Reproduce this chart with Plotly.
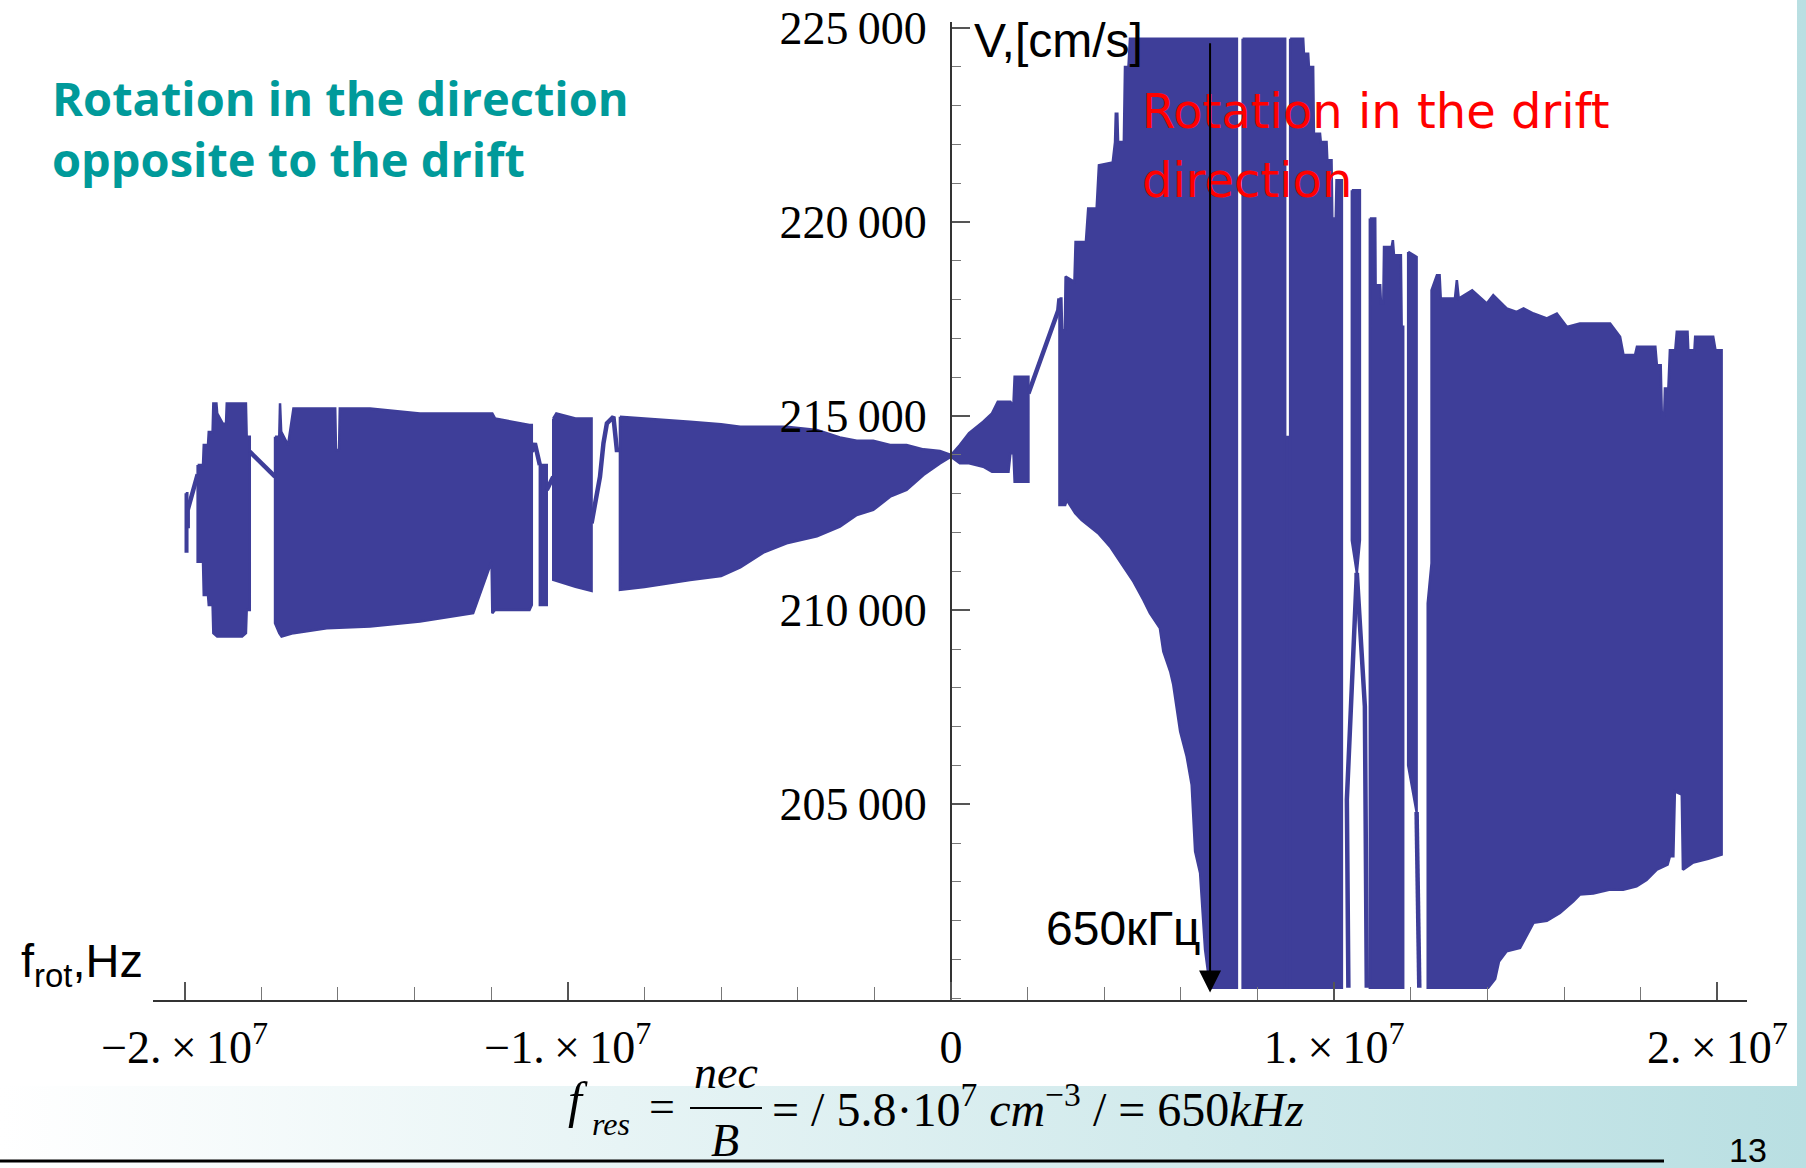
import plotly.graph_objects as go

W, H = 1806, 1168
X_UNIT = 1e6          # x values below are in units of 10^6 Hz
BLUE = "#3E3E99"

# ---------------- data ----------------
# Upper / lower envelopes of the densely oscillating V(f_rot) curve.
# Blocks are separated by None (upper and lower lists have the same block order).
upper = [
    (-19.97, 213011), (-19.93, 213011), None,
    (-19.66, 213739), (-19.52, 213739), (-19.50, 214254), (-19.39, 214254), (-19.37, 214588),
    (-19.27, 214588), (-19.25, 215327), (-19.17, 215327), (-19.15, 215069), (-19.00, 214800),
    (-18.92, 214800), (-18.90, 215327), (-18.40, 215327), (-18.38, 214468), (-18.30, 214468), None,
    (-17.64, 214468), (-17.53, 214468), (-17.51, 215327), (-17.48, 214600), (-17.30, 214254),
    (-17.16, 215198), (-16.07, 215198), (-16.05, 214125), (-15.97, 214125), (-15.95, 215198),
    (-15.16, 215198), (-13.86, 215069), (-11.97, 215069), (-11.90, 214940), (-11.00, 214768),
    (-10.94, 214768), None,
    (-10.73, 213739), (-10.55, 213739), None,
    (-10.38, 214940), (-10.30, 215069), (-9.80, 214940), (-9.38, 214940), None,
    (-8.64, 214983), (-8.00, 214940), (-7.30, 214897), (-6.81, 214853), (-6.00, 214790),
    (-5.50, 214725), (-4.29, 214725), (-3.50, 214640), (-2.90, 214450), (-2.46, 214365),
    (-2.03, 214365), (-1.59, 214254), (-1.16, 214254), (-0.72, 214143), (-0.29, 214100),
    (0.00, 213997), (0.23, 214254), (0.47, 214560), (0.84, 214854), (1.07, 215069),
    (1.22, 215368), (1.55, 215368), (1.58, 215327), (1.63, 215327), (1.66, 216012), (2.02, 216012), None,
    (2.83, 218028), (2.88, 218028), (2.90, 217213), (2.97, 217213), (2.99, 218592), (3.22, 218456),
    (3.25, 219485), (3.52, 219485), (3.58, 220344), (3.80, 220344), (3.86, 221458), (4.22, 221532),
    (4.28, 222058), (4.30, 222788), (4.34, 222788), (4.36, 222058), (4.51, 222058), (4.54, 223990),
    (4.63, 223990), (4.67, 224718), (7.46, 224718), None,
    (7.61, 224718), (8.72, 224718), None,
    (8.70, 214460), (8.87, 214460), None,
    (8.85, 224718), (9.19, 224718), (9.21, 224330), (9.32, 224330), (9.34, 223990), (9.45, 223990),
    (9.47, 222270), (9.63, 222270), (9.65, 222058), (9.80, 222058), (9.82, 221587), (9.93, 221587),
    (9.95, 220086), (10.04, 220086), (10.06, 221072), (10.20, 221072), None,
    (10.46, 220815), (10.67, 220815), None,
    (10.93, 220086), (11.07, 220086), (11.08, 218370), (11.20, 218370), (11.22, 217900),
    (11.28, 217900), (11.30, 219356), (11.50, 219356), (11.53, 219530), (11.56, 219142),
    (11.74, 219142), (11.76, 217298), (11.80, 217298), None,
    (11.93, 219228), (12.15, 219100), None,
    (12.54, 211210), (12.54, 218242), (12.68, 218628), (12.75, 218628), (12.78, 218028),
    (13.15, 218028), (13.20, 218499), (13.25, 218028), (13.60, 218242), (13.98, 217900),
    (14.15, 218114), (14.50, 217771), (14.76, 217685), (14.94, 217771), (15.20, 217642),
    (15.55, 217514), (15.81, 217642), (16.07, 217298), (16.41, 217385), (17.20, 217385),
    (17.46, 217040), (17.55, 216570), (17.85, 216570), (17.90, 216783), (18.38, 216783),
    (18.42, 216312), (18.52, 216312), (18.55, 214983), (18.61, 214983), (18.63, 215713),
    (18.72, 215713), (18.76, 216698), (18.90, 216698), (18.94, 217169), (19.22, 217169),
    (19.24, 216698), (19.40, 216698), (19.42, 217040), (19.89, 217040), (19.95, 216698), (20.11, 216698),
]

lower = [
    (-19.97, 211509), (-19.93, 211509), None,
    (-19.66, 211251), (-19.52, 211251), (-19.50, 210394), (-19.39, 210394), (-19.37, 210137),
    (-19.27, 210137), (-19.25, 209409), (-19.15, 209323), (-18.50, 209323), (-18.40, 209409),
    (-18.38, 210008), (-18.30, 210008), None,
    (-17.64, 209666), (-17.53, 209409), (-17.47, 209323), (-17.16, 209409), (-16.29, 209537),
    (-15.16, 209580), (-13.86, 209709), (-12.47, 209923), (-11.99, 211251), (-11.97, 209923),
    (-11.90, 210008), (-11.00, 210008), (-10.94, 210137), None,
    (-10.73, 210137), (-10.55, 210137), None,
    (-10.38, 210780), (-9.80, 210600), (-9.38, 210500), None,
    (-8.64, 210523), (-8.00, 210600), (-7.30, 210700), (-6.81, 210780), (-6.00, 210883),
    (-5.50, 211100), (-4.90, 211483), (-4.29, 211724), (-3.50, 211900), (-2.90, 212152),
    (-2.46, 212453), (-2.03, 212581), (-1.59, 212924), (-1.16, 213096), (-0.72, 213482),
    (-0.29, 213782), (0.00, 213953), (0.23, 213782), (0.47, 213782), (0.84, 213696),
    (1.07, 213567), (1.50, 213567), (1.55, 214040), (1.63, 214040), (1.66, 213310), (2.02, 213310), None,
    (2.83, 212710), (2.98, 212710), (3.02, 212839), (3.24, 212500), (3.41, 212324), (3.84, 211982),
    (4.15, 211637), (4.41, 211251), (4.76, 210737), (5.02, 210266), (5.19, 209923), (5.45, 209537),
    (5.54, 208936), (5.72, 208421), (5.80, 208079), (5.98, 206877), (6.15, 206234), (6.28, 205506),
    (6.37, 203790), (6.50, 203233), (6.63, 201260), (6.76, 200275), (7.46, 200275), None,
    (7.61, 200275), (8.72, 200275), None,
    (8.70, 200275), (8.87, 200275), None,
    (8.85, 200275), (10.20, 200275), None,
    (10.46, 211800), (10.59, 210960), (10.67, 211800), None,
    (10.93, 200275), (11.80, 200275), None,
    (11.93, 206000), (12.15, 204800), None,
    (12.44, 210180), (12.44, 200275), (14.02, 200275), (14.20, 200500), (14.30, 200950),
    (14.50, 201216), (14.85, 201300), (15.20, 201947), (15.55, 202000), (15.89, 202200),
    (16.24, 202500), (16.41, 202676), (16.76, 202700), (17.20, 202804), (17.54, 202800),
    (17.89, 202890), (18.15, 203050), (18.42, 203318), (18.70, 203450), (18.76, 203661),
    (18.85, 203661), (18.89, 205333), (19.07, 205250), (19.10, 203318), (19.37, 203500),
    (19.76, 203600), (20.11, 203704),
]

# Single-line pieces of the curve joining the oscillating blocks (None = break)
links = [
    (-19.92, 212110), (-19.92, 212580), (-19.66, 213500), None,
    (-18.30, 214083), (-17.64, 213439), None,
    (-10.94, 214083), (-10.86, 214297), (-10.73, 213739), None,
    (-10.55, 213096), (-10.38, 213439), None,
    (-9.38, 212239), (-9.16, 213439), (-9.07, 214297), (-8.98, 214811), (-8.81, 214983),
    (-8.72, 214125), (-8.64, 214125), None,
    (2.02, 215584), (2.80, 217727), (2.83, 218028), None,
    (10.59, 210960), (10.33, 205120), (10.37, 200275), None,
    (10.59, 210960), (10.80, 207520), (10.85, 200275), None,
    (12.15, 204800), (12.22, 200275),
]

# Arrow marking 650 kHz
arrow_x = 6.76
arrow_top = 224640
arrow_tip = 200150

# Axes
x_range = [-20.825, 20.772]
y_range = [199960, 225150]
y_tick_vals = [205000, 210000, 215000, 220000, 225000]
y_tick_text = ["205\u2009000", "210\u2009000", "215\u2009000", "220\u2009000", "225\u2009000"]
x_tick_vals = [-2e7, -1e7, 0, 1e7, 2e7]
x_tick_text = ["\u22122.\u2009\u00d7\u200910<sup>7</sup>", "\u22121.\u2009\u00d7\u200910<sup>7</sup>", "0",
               "1.\u2009\u00d7\u200910<sup>7</sup>", "2.\u2009\u00d7\u200910<sup>7</sup>"]


def split_blocks(pts):
    out, cur = [], []
    for p in pts:
        if p is None:
            out.append(cur)
            cur = []
        else:
            cur.append(p)
    if cur:
        out.append(cur)
    return out


fig = go.Figure()

# ---- page background (slide band with gradient) on a full-page helper subplot ----
fig.add_trace(go.Scatter(
    x=[0, 1797, 1797, W, W, 0, 0], y=[1086, 1086, 0, 0, H, H, 1086],
    mode="lines", fill="toself", line=dict(width=0, color="rgba(0,0,0,0)"),
    fillgradient=dict(type="horizontal", colorscale=[[0, "#FFFFFF"], [1, "#B9DFE2"]], start=0, stop=W),
    xaxis="x", yaxis="y", hoverinfo="skip", showlegend=False))

# ---- the curve: filled envelopes ----
for u, l in zip(split_blocks(upper), split_blocks(lower)):
    xs = [p[0] * X_UNIT for p in u] + [p[0] * X_UNIT for p in reversed(l)]
    ys = [p[1] for p in u] + [p[1] for p in reversed(l)]
    xs.append(xs[0])
    ys.append(ys[0])
    fig.add_trace(go.Scatter(
        x=xs, y=ys, mode="lines", fill="toself", fillcolor=BLUE,
        line=dict(color=BLUE, width=2.5), xaxis="x2", yaxis="y2",
        hoverinfo="skip", showlegend=False))

fig.add_trace(go.Scatter(
    x=[None if p is None else p[0] * X_UNIT for p in links],
    y=[None if p is None else p[1] for p in links],
    mode="lines", line=dict(color=BLUE, width=4.5), connectgaps=False,
    xaxis="x2", yaxis="y2", hoverinfo="skip", showlegend=False))

# ---- axes ----
xd = [153 / W, 1747 / W]
yd = [1 - 1000 / H, 1 - 22 / H]
xr = [x_range[0] * X_UNIT, x_range[1] * X_UNIT]
y_axis_pos = xd[0] + (0 - xr[0]) / (xr[1] - xr[0]) * (xd[1] - xd[0])

tick_font = dict(family="Liberation Serif", size=46, color="black")

fig.update_layout(
    width=W, height=H, autosize=False, margin=dict(l=0, r=0, t=0, b=0, pad=0, autoexpand=False),
    paper_bgcolor="white", plot_bgcolor="rgba(0,0,0,0)", showlegend=False,
    xaxis=dict(domain=[0, 1], range=[0, W], visible=False, fixedrange=True, automargin=False),
    yaxis=dict(domain=[0, 1], range=[H, 0], visible=False, fixedrange=True, automargin=False),
    xaxis2=dict(
        domain=xd, range=xr, anchor="y2", showgrid=False, zeroline=False, automargin=False,
        showline=True, linecolor="#333333", linewidth=2,
        ticks="inside", ticklen=18, tickwidth=1.5, tickcolor="#555555",
        tickmode="array", tickvals=x_tick_vals, ticktext=x_tick_text,
        tickfont=tick_font, ticklabelstandoff=6,
        minor=dict(ticks="inside", ticklen=13, tickwidth=1.2, tickcolor="#777777",
                   tick0=0, dtick=2e6, showgrid=False),
    ),
    yaxis2=dict(
        domain=yd, range=y_range, anchor="free", position=y_axis_pos, side="left",
        showgrid=False, zeroline=False, automargin=False,
        showline=True, linecolor="#333333", linewidth=2,
        ticks="inside", ticklen=18, tickwidth=1.5, tickcolor="#555555",
        tickmode="array", tickvals=y_tick_vals, ticktext=y_tick_text,
        tickfont=tick_font, ticklabelstandoff=14,
        minor=dict(ticks="inside", ticklen=9, tickwidth=1.2, tickcolor="#777777",
                   tick0=0, dtick=1000, showgrid=False),
    ),
)


def px(X):
    return X / W


def py(Y):
    return 1 - Y / H


def ann(text, X, Y, size, color="black", family="Liberation Sans", xanchor="left", yanchor="middle"):
    fig.add_annotation(text=text, x=px(X), y=py(Y), xref="paper", yref="paper",
                       xanchor=xanchor, yanchor=yanchor, showarrow=False, align="left",
                       font=dict(family=family, size=size, color=color))


TEAL = "#009A9A"
ann("<b>Rotation in the direction<br>opposite to the drift</b>", 50, 128, 47, TEAL, "Open Sans")
ann("Rotation in the drift", 1140, 111, 48, "#FF0000", "DejaVu Sans")
ann("direction", 1140, 180, 48, "#FF0000", "DejaVu Sans")
ann("V,[cm/s]", 972, 40, 48)
ann("f<sub>rot</sub>,Hz", 19, 964, 47)
ann("650\u043a\u0413\u0446", 1203, 928, 48, xanchor="right")

# arrow at 650 kHz
fig.add_annotation(x=arrow_x * X_UNIT, y=arrow_tip, ax=arrow_x * X_UNIT, ay=arrow_top,
                   xref="x2", yref="y2", axref="x2", ayref="y2", text="", showarrow=True,
                   arrowhead=2, arrowsize=2.2, arrowwidth=2, arrowcolor="black", standoff=0)

# formula at the bottom
SER = "Liberation Serif"
ann("<i>f</i>", 566, 1100, 50, family=SER)
ann("<i>res</i>", 590, 1124, 32, family=SER)
ann("=", 662, 1106, 46, family=SER, xanchor="center")
ann("<i>nec</i>", 726, 1072, 46, family=SER, xanchor="center")
ann("<i>B</i>", 725, H, 46, family=SER, xanchor="center", yanchor="bottom")
fig.add_shape(type="line", xref="paper", yref="paper", x0=px(690), x1=px(762), y0=py(1108), y1=py(1108),
              line=dict(color="black", width=2))
ann("= / 5.8\u00b710<sup>7</sup> <i>cm</i><sup>\u22123</sup> / = 650<i>kHz</i>", 770, 1106, 48, family=SER)

# slide decorations
fig.add_shape(type="line", xref="paper", yref="paper", x0=0, x1=px(1664), y0=py(1161), y1=py(1161),
              line=dict(color="black", width=3))
ann("13", 1748, 1150, 34, xanchor="center")

fig.write_html("out.html", config={"displayModeBar": False, "responsive": False})
